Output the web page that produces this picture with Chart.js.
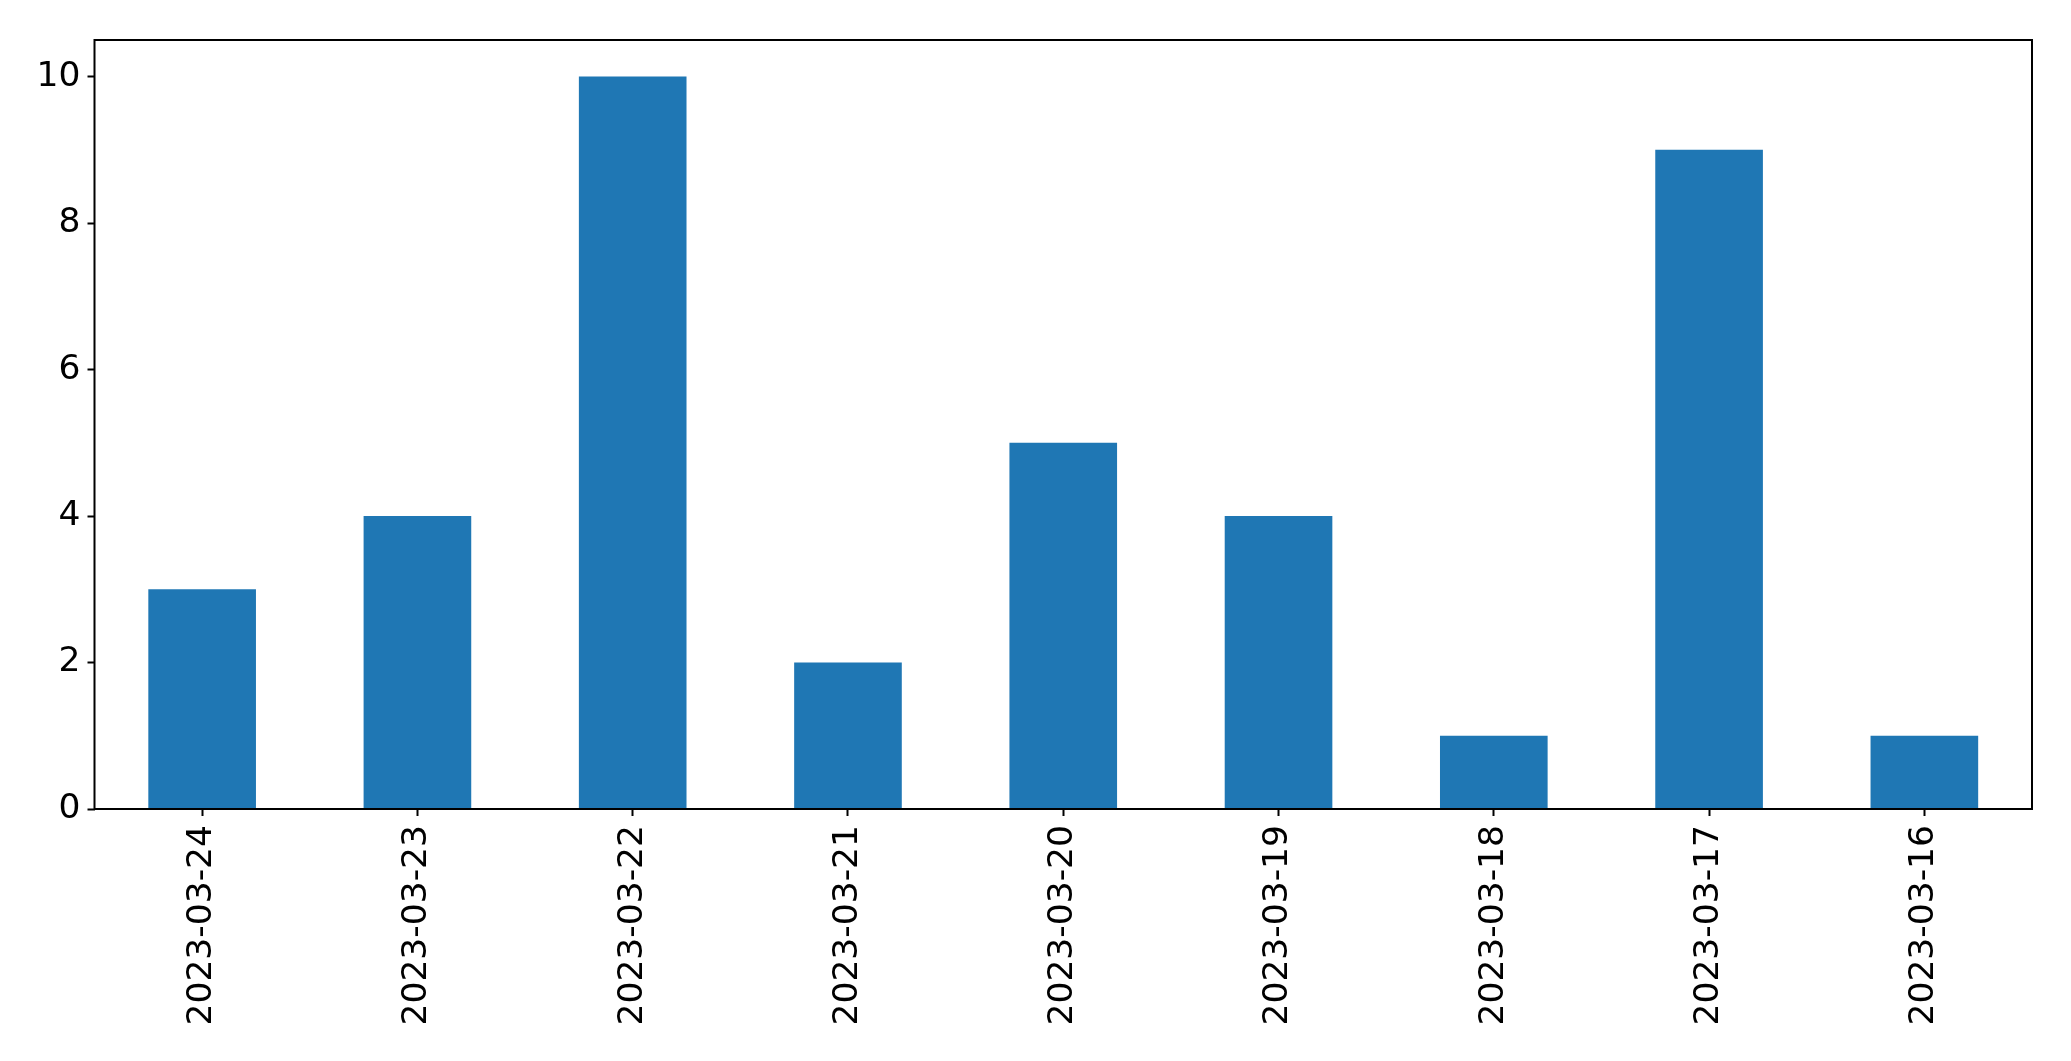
<!DOCTYPE html>
<html lang="en">

<head>
    <meta charset="UTF-8">
    <title>Counts per day</title>
    <script src="https://cdn.jsdelivr.net/npm/chart.js"></script>
    <style>
        body { margin: 0; background: #fff; }
    </style>
</head>

<body>
    <canvas id="day-chart" width="2071" height="1061"></canvas>

    <script>
        // Data
        const days = ['2023-03-24', '2023-03-23', '2023-03-22', '2023-03-21', '2023-03-20',
                      '2023-03-19', '2023-03-18', '2023-03-17', '2023-03-16'];
        const counts = [3, 4, 10, 2, 5, 4, 1, 9, 1];
        const yTicks = [0, 2, 4, 6, 8, 10];

        // Frame around the plot area, like matplotlib spines
        const frame = {
            id: 'frame',
            afterDatasetsDraw(chart) {
                const a = chart.chartArea;
                const ctx = chart.ctx;
                ctx.save();
                ctx.strokeStyle = '#000';
                ctx.lineWidth = 2;
                ctx.strokeRect(a.left, a.top, a.right - a.left, a.bottom - a.top);
                ctx.restore();
            }
        };

        const tickFont = { family: 'DejaVu Sans', size: 34.5 };

        new Chart(document.getElementById('day-chart').getContext('2d'), {
            type: 'bar',
            data: {
                labels: days,
                datasets: [{
                    data: counts,
                    backgroundColor: '#1f77b4',
                    barPercentage: 0.5,
                    categoryPercentage: 1
                }]
            },
            options: {
                responsive: false,
                devicePixelRatio: 1,
                animation: false,
                layout: { padding: { left: 0, top: 40, right: 39, bottom: 0 } },
                plugins: {
                    legend: { display: false },
                    tooltip: { enabled: false }
                },
                scales: {
                    x: {
                        offset: true,
                        grid: { offset: false, drawOnChartArea: false, tickLength: 7, tickColor: '#000', tickWidth: 2 },
                        border: { display: false },
                        ticks: {
                            color: '#000',
                            font: tickFont,
                            minRotation: 90,
                            maxRotation: 90,
                            padding: 9,
                            autoSkip: false
                        },
                        afterFit(scale) { scale.height = 252; }
                    },
                    y: {
                        min: 0,
                        max: 10.5,
                        grid: { drawOnChartArea: false, tickLength: 7, tickColor: '#000', tickWidth: 2 },
                        border: { display: false },
                        ticks: {
                            color: '#000',
                            font: tickFont,
                            padding: 7,
                            stepSize: 2,
                            includeBounds: false,
                            callback: v => yTicks.includes(v) ? v : ''
                        },
                        afterFit(scale) { scale.width = 94.5; }
                    }
                }
            },
            plugins: [frame]
        });
    </script>
</body>

</html>
